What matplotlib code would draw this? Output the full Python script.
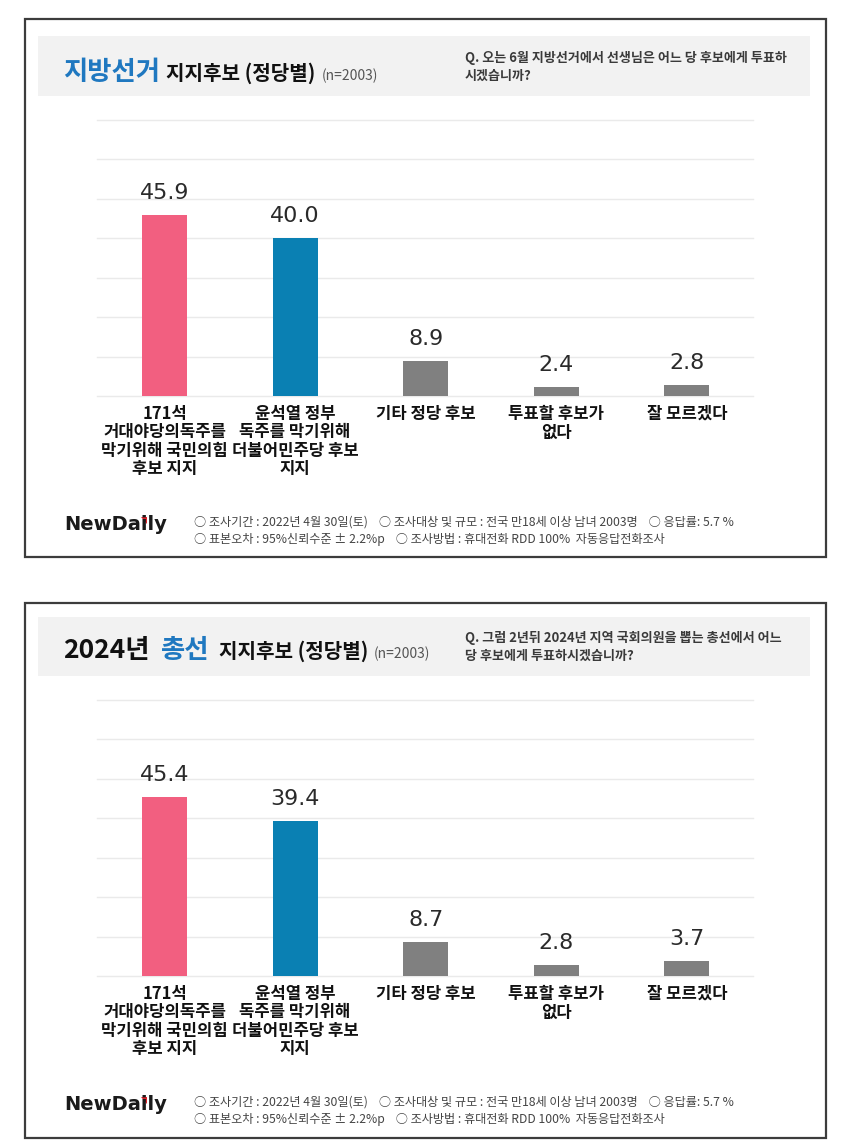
import matplotlib
matplotlib.use('Agg')
import matplotlib.pyplot as plt
from matplotlib.patches import Rectangle, Polygon

plt.rcParams['font.family'] = ['Noto Sans CJK KR', 'DejaVu Sans']

# ---------------- data ----------------
categories = [
    "171석\n거대야당의독주를\n막기위해 국민의힘\n후보 지지",
    "윤석열 정부\n독주를 막기위해\n더불어민주당 후보\n지지",
    "기타 정당 후보",
    "투표할 후보가\n없다",
    "잘 모르겠다",
]
local_values = [45.9, 40.0, 8.9, 2.4, 2.8]      # 지방선거
general_values = [45.4, 39.4, 8.7, 2.8, 3.7]    # 2024년 총선
grid_values = [0, 10, 20, 30, 40, 50, 60, 70]

title1_parts = ["지방선거", "지지후보 (정당별)", "(n=2003)"]
title2_parts = ["2024년", "총선", "지지후보 (정당별)", "(n=2003)"]
question1 = ["Q. 오는 6월 지방선거에서 선생님은 어느 당 후보에게 투표하", "시겠습니까?"]
question2 = ["Q. 그럼 2년뒤 2024년 지역 국회의원을 뽑는 총선에서 어느", "당 후보에게 투표하시겠습니까?"]
footer_lines = [
    "○ 조사기간 : 2022년 4월 30일(토)    ○ 조사대상 및 규모 : 전국 만18세 이상 남녀 2003명    ○ 응답률: 5.7 %",
    "○ 표본오차 : 95%신뢰수준 ± 2.2%p    ○ 조사방법 : 휴대전화 RDD 100%  자동응답전화조사",
]
logo_text = "NewDaily"

# ---------------- styles ----------------
PINK = '#F25F80'
BLUE = '#0A80B3'
GREY = '#808080'
bar_colors = [PINK, BLUE, GREY, GREY, GREY]
TITLE_BLUE = '#1F78C0'

W, H = 850, 1142
fig = plt.figure(figsize=(W / 100, H / 100), dpi=100)
fig.patch.set_facecolor('white')

bg = fig.add_axes([0, 0, 1, 1], zorder=0)
bg.set_xlim(0, W)
bg.set_ylim(H, 0)
bg.axis('off')

renderer = fig.canvas.get_renderer()


def place_parts(parts, styles, x0, y_base, gaps):
    x = x0
    for txt, (color, size, weight), gap in zip(parts, styles, gaps):
        t = bg.text(x, y_base, txt, color=color, fontsize=size, fontweight=weight,
                    ha='left', va='baseline')
        bb = t.get_window_extent(renderer)
        x = bb.x1 + gap


def draw_panel(top, bottom, header_top, header_bottom, title_parts, title_styles,
               title_gaps, title_base, question, q_y, values, ax_base, ax_top,
               foot_y, logo_y):
    # frame
    bg.add_patch(Rectangle((25, top), 801, bottom - top, fill=False,
                           ec='#3c3c3c', lw=1.6))
    # header
    bg.add_patch(Rectangle((38, header_top), 772, header_bottom - header_top,
                           fc='#F2F2F2', ec='none'))
    place_parts(title_parts, title_styles, 63, title_base, title_gaps)
    for line, yy in zip(question, q_y):
        bg.text(465, yy, line, fontsize=9.4, fontweight='bold', color='#3a3a3a',
                ha='left', va='center')

    # chart axes
    left_px, right_px = 97, 753
    ax = fig.add_axes([left_px / W, (H - ax_base) / H, (right_px - left_px) / W,
                       (ax_base - ax_top) / H], zorder=2)
    ax.set_facecolor('none')
    x = list(range(len(values)))
    ax.set_xlim(-0.517, 4.506)
    ax.set_ylim(0, 70)
    for g in grid_values:
        ax.axhline(g, color='#EAEAEA', lw=1.0, zorder=0, clip_on=False)
    ax.bar(x, values, width=0.345, color=bar_colors, zorder=2)
    for xi, v in zip(x, values):
        ax.annotate(f"{v:.1f}", xy=(xi, v), xytext=(0, 11.5), textcoords='offset points',
                    ha='center', va='baseline', fontsize=16, color='#2a2a2a',
                    family='DejaVu Sans')
    for xi, lab in zip(x, categories):
        ax.annotate(lab, xy=(xi, 0), xytext=(0, -6.5), textcoords='offset points',
                    ha='center', va='top', fontsize=12, fontweight='bold',
                    color='#111111', linespacing=1.03)
    ax.axis('off')

    # footer
    t = bg.text(64, logo_y, logo_text, fontsize=14, fontweight='bold', color='#1a1a1a',
                family='DejaVu Sans', ha='left', va='center')
    pre = bg.text(64, logo_y, "NewDa", fontsize=14, fontweight='bold', alpha=0,
                  family='DejaVu Sans', ha='left', va='center')
    pb = pre.get_window_extent(renderer)
    tb = t.get_window_extent(renderer)
    xi = pb.x1 + 3
    ytop = H - tb.y1 + 2
    bg.add_patch(Polygon([(xi - 3, ytop - 1), (xi + 3, ytop - 1), (xi + 3, ytop + 6)],
                         closed=True, fc='#E0202A', ec='none'))
    for line, yy in zip(footer_lines, foot_y):
        bg.text(194, yy, line, fontsize=8.75, color='#444444', ha='left', va='center')


styles1 = [(TITLE_BLUE, 19, 'bold'), ('#111111', 14.5, 'bold'), ('#555555', 10, 'normal')]
styles2 = [('#111111', 19, 'bold'), (TITLE_BLUE, 19, 'bold'), ('#111111', 14.5, 'bold'),
           ('#555555', 10, 'normal')]

draw_panel(19, 557, 36, 96, title1_parts, styles1, [6, 6, 6], 80, question1, [58, 76],
           local_values, 396, 120, [522, 539], 525)
draw_panel(603, 1138, 617, 676, title2_parts, styles2, [11, 10, 5, 5], 658, question2,
           [638, 656], general_values, 976, 700, [1102, 1119], 1105)

fig.savefig('out.png', dpi=100, facecolor='white')
